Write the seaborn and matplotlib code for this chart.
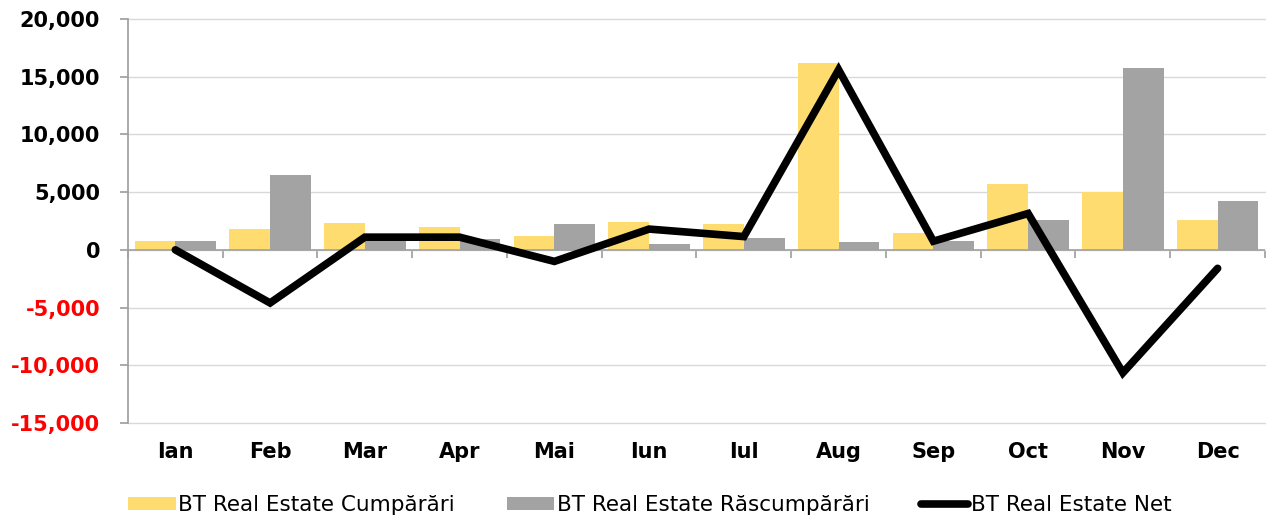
import numpy as np
import pandas as pd
import matplotlib
matplotlib.use("Agg")
import matplotlib.pyplot as plt
import seaborn as sns
from matplotlib.patches import Patch
from matplotlib.lines import Line2D

months = ["Ian", "Feb", "Mar", "Apr", "Mai", "Iun", "Iul", "Aug", "Sep", "Oct", "Nov", "Dec"]
cumparari = [800, 1800, 2300, 2000, 1200, 2400, 2200, 16200, 1500, 5700, 5050, 2600]
rascumparari = [800, 6450, 1000, 950, 2200, 500, 1050, 650, 750, 2600, 15750, 4250]
net = [0, -4600, 1100, 1100, -1000, 1800, 1150, 15600, 750, 3150, -10650, -1600]
series_names = ["BT Real Estate Cumpărări", "BT Real Estate Răscumpărări", "BT Real Estate Net"]
yticks = [-15000, -10000, -5000, 0, 5000, 10000, 15000, 20000]

YELLOW = "#FFDC6F"
GRAY = "#A3A3A3"

sns.set_theme(style="white")
plt.rcParams["font.family"] = ["DejaVu Sans"]
plt.rcParams["text.color"] = "black"
plt.rcParams["xtick.color"] = "black"
plt.rcParams["ytick.color"] = "black"

df = pd.DataFrame({
    "month": months * 2,
    "value": cumparari + rascumparari,
    "series": [series_names[0]] * 12 + [series_names[1]] * 12,
})

fig = plt.figure(figsize=(12.72, 5.2), dpi=100)
ax = fig.add_axes([0.1006, 0.1865, 0.8939, 0.777])

sns.barplot(data=df, x="month", y="value", hue="series", order=months,
            hue_order=series_names[:2], palette=[YELLOW, GRAY],
            width=0.86, saturation=1, ax=ax, legend=False, zorder=2,
            edgecolor="none", linewidth=0)
sns.lineplot(x=np.arange(len(months)), y=net, color="black", lw=5.5,
             ax=ax, zorder=3, solid_capstyle="round", solid_joinstyle="miter")

ax.set_xlim(-0.5, len(months) - 0.5)
ax.set_ylim(yticks[0], yticks[-1])
ax.set_yticks(yticks)
ax.set_yticklabels([f"{v:,}" for v in yticks], fontsize=15, fontweight="bold")
for lab, v in zip(ax.get_yticklabels(), yticks):
    lab.set_color("red" if v < 0 else "black")
ax.yaxis.grid(True, color="#D9D9D9", lw=1)
for gl in ax.yaxis.get_gridlines():
    gl.set_clip_on(False)
ax.set_axisbelow(True)
ax.set_xlabel("")
ax.set_ylabel("")
ax.tick_params(axis="x", length=0, pad=14, labelsize=15, labelcolor="black")
for lab in ax.get_xticklabels():
    lab.set_fontweight("bold")
ax.tick_params(axis="y", direction="out", length=6, color="#A0A0A0", left=True, pad=14)

for s in ["top", "right", "bottom"]:
    ax.spines[s].set_visible(False)
ax.spines["left"].set_color("#A0A0A0")

# zero axis line with category boundary ticks
ax.axhline(0, color="#A0A0A0", lw=1.2, zorder=2.5)
zero_frac = (0 - yticks[0]) / (yticks[-1] - yticks[0])
sec = ax.secondary_xaxis(zero_frac)
sec.set_xticks(np.arange(len(months) + 1) - 0.5)
sec.set_xticklabels([])
sec.tick_params(direction="out", length=6, color="#A0A0A0")
for s in sec.spines.values():
    s.set_visible(False)

handles = [Patch(facecolor=YELLOW, edgecolor="none"),
           Patch(facecolor=GRAY, edgecolor="none"),
           Line2D([0], [0], color="black", lw=5.5, solid_capstyle="round")]
fig.legend(handles, series_names, loc="center", ncol=3, frameon=False,
           bbox_to_anchor=(0.511, 0.028), handlelength=2.2, handleheight=0.55,
           handletextpad=0.12, columnspacing=2.4, borderpad=0, borderaxespad=0,
           prop={"family": ["DejaVu Sans"], "size": 15.5})

fig.savefig("out.png", dpi=100)
